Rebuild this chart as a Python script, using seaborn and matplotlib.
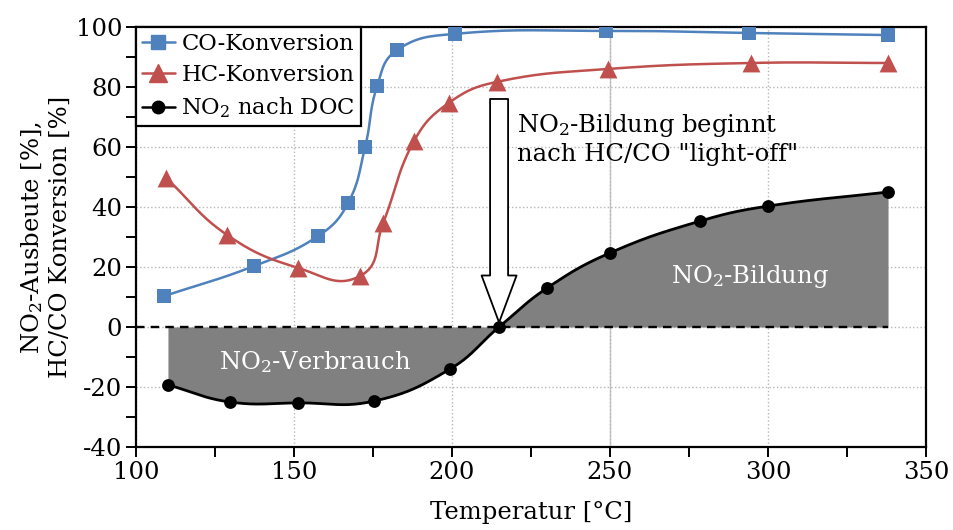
import numpy as np
import pandas as pd
import matplotlib
matplotlib.use("Agg")
import matplotlib.pyplot as plt
from matplotlib.lines import Line2D
from matplotlib.ticker import MultipleLocator
import seaborn as sns

# Measured light-off data (temperature in °C, values in %)
temp_co = [108.9, 137.3, 157.6, 167.1, 172.5, 176.3, 182.6, 200.9, 248.7, 294.0, 338.0]
co_conv = [10.3, 20.3, 30.3, 41.3, 60.0, 80.3, 92.3, 97.7, 98.7, 98.0, 97.3]

temp_hc = [109.5, 128.8, 151.3, 170.9, 178.2, 188.0, 199.0, 214.2, 249.4, 294.6, 338.0]
hc_conv = [49.7, 30.7, 19.7, 17.0, 34.7, 62.0, 74.7, 81.7, 86.0, 88.0, 88.0]

temp_no2 = [110.1, 129.7, 151.3, 175.3, 199.4, 214.9, 230.1, 250.0, 278.5, 300.0, 338.0]
no2_yield = [-19.3, -25.0, -25.3, -24.7, -14.0, 0.0, 13.0, 24.7, 35.3, 40.3, 45.0]

series_labels = ["CO-Konversion", "HC-Konversion", "NO$_2$ nach DOC"]
x_ticks = [100, 150, 200, 250, 300, 350]
y_ticks = [-40, -20, 0, 20, 40, 60, 80, 100]

BLUE = "#4F81BD"
RED = "#C0504D"
GRAY = "#808080"


def smooth_curve(x, y, sx=3.16, sy=3.0, k=0.42, n=40):
    """Bezier smoothing through the measured points (chord-scaled tangents)."""
    p = np.column_stack([np.asarray(x, float) * sx, np.asarray(y, float) * sy])
    m = len(p)
    t = np.linspace(0, 1, n)[1:, None]
    out = [p[:1]]
    for i in range(m - 1):
        p0, p1, p2, p3 = p[max(i - 1, 0)], p[i], p[i + 1], p[min(i + 2, m - 1)]
        seg = np.linalg.norm(p2 - p1)
        d1 = (p2 - p0) / np.linalg.norm(p2 - p0)
        d2 = (p3 - p1) / np.linalg.norm(p3 - p1)
        c1 = p1 + d1 * seg * k
        c2 = p2 - d2 * seg * k
        b = ((1 - t) ** 3) * p1 + 3 * ((1 - t) ** 2) * t * c1 + 3 * (1 - t) * t ** 2 * c2 + t ** 3 * p2
        out.append(b)
    pts = np.vstack(out)
    return pts[:, 0] / sx, pts[:, 1] / sy


sns.set_style("ticks")
plt.rcParams["font.family"] = ["DejaVu Serif"]
plt.rcParams["mathtext.fontset"] = "dejavuserif"
plt.rcParams["axes.unicode_minus"] = False
plt.rcParams["text.color"] = "black"
plt.rcParams["axes.labelcolor"] = "black"
FS = 17.5

fig = plt.figure(figsize=(9.54, 5.3), dpi=100)
ax = fig.add_axes([0.1426, 0.1566, 0.8280, 0.7925])

# grid
ax.grid(which="major", color="#b8b8b8", ls=":", lw=1.0, zorder=0)
ax.axvline(250, color="#c4c4c4", lw=1.0, zorder=0.5)

# NO2 formation / consumption area
nx, ny = smooth_curve(temp_no2, no2_yield)
ax.fill_between(nx, ny, 0, color=GRAY, lw=0, zorder=1)
ax.plot([100, temp_no2[-1]], [0, 0], color="black", lw=1.7, dashes=(3.6, 2.6), zorder=2)

curves = [
    (temp_co, co_conv, BLUE, "s", 100, 1.8),
    (temp_hc, hc_conv, RED, "^", 165, 1.8),
    (temp_no2, no2_yield, "black", "o", 85, 2.0),
]
for xs, ys, col, mk, size, lw in curves:
    cx, cy = smooth_curve(xs, ys)
    df_line = pd.DataFrame({"T": cx, "v": cy})
    sns.lineplot(data=df_line, x="T", y="v", ax=ax, color=col, lw=lw,
                 sort=False, estimator=None, zorder=3)
    df_pts = pd.DataFrame({"T": xs, "v": ys})
    sns.scatterplot(data=df_pts, x="T", y="v", ax=ax, color=col, marker=mk,
                    s=size, linewidth=0, zorder=4)

# arrow marking the start of NO2 formation
ax.annotate("", xy=(temp_no2[5], 1.5), xytext=(temp_no2[5], 76),
            arrowprops=dict(arrowstyle="simple,head_length=2.35,head_width=1.75,tail_width=0.9",
                            fc="white", ec="black", lw=1.3, shrinkA=0, shrinkB=0,
                            mutation_scale=14.4),
            zorder=5)
ax.text(220.6, 71.5, 'NO$_2$-Bildung beginnt\nnach HC/CO "light-off"',
        fontsize=FS, ha="left", va="top", linespacing=1.2, zorder=6)
ax.text(294.3, 16.7, "NO$_2$-Bildung", color="white", fontsize=FS,
        ha="center", va="center", zorder=6)
ax.text(156.6, -11.7, "NO$_2$-Verbrauch", color="white", fontsize=FS,
        ha="center", va="center", zorder=6)

ax.set_xlim(100, 350)
ax.set_ylim(-40, 100)
ax.set_xticks(x_ticks)
ax.set_yticks(y_ticks)
ax.xaxis.set_minor_locator(MultipleLocator(25))
ax.yaxis.set_minor_locator(MultipleLocator(10))
ax.tick_params(which="both", direction="out", length=7, width=1.4,
               labelsize=FS, colors="black", pad=3)
for s in ax.spines.values():
    s.set_visible(True)
    s.set_color("black")
    s.set_linewidth(1.6)

ax.set_xlabel("Temperatur [°C]", fontsize=FS, labelpad=12)
ax.set_ylabel("NO$_2$-Ausbeute [%],\nHC/CO Konversion [%]", fontsize=FS,
              labelpad=3, linespacing=1.2)

handles = [
    Line2D([], [], color=BLUE, marker="s", ms=9.5, lw=1.8),
    Line2D([], [], color=RED, marker="^", ms=12.5, lw=1.8),
    Line2D([], [], color="black", marker="o", ms=9, lw=1.8),
]
leg = ax.legend(handles, series_labels, loc="upper left", bbox_to_anchor=(0, 1),
                borderaxespad=0, fontsize=16.3, frameon=True, fancybox=False,
                framealpha=1, edgecolor="black", handlelength=1.45,
                handletextpad=0.3, borderpad=0.25, labelspacing=0.42)
leg.get_frame().set_linewidth(1.6)
leg.set_zorder(10)

fig.savefig("out.png", dpi=100)
